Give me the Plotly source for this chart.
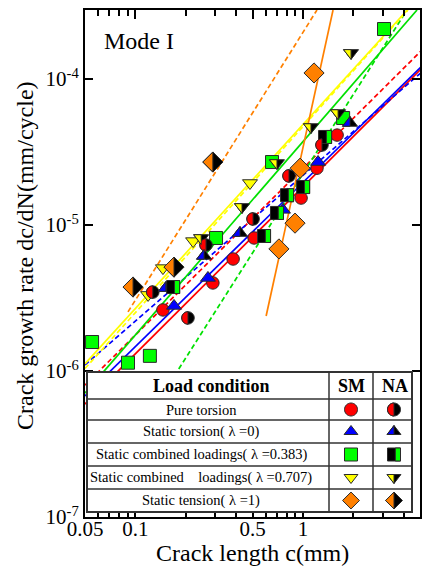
import math
import plotly.graph_objects as go

FONT = "Liberation Serif, Times New Roman, serif"

# ---------------- data (crack length c [mm], growth rate dc/dN [mm/cycle]) ----------------
# Pure torsion
pt_sm_c = [0.146, 0.290, 0.383, 0.511, 0.975, 1.213, 1.600]
pt_sm_r = [2.62e-6, 4.01e-6, 5.85e-6, 8.15e-6, 1.53e-5, 2.45e-5, 4.13e-5]
pt_na_c = [0.127, 0.206, 0.264, 0.504, 0.826, 1.300]
pt_na_r = [3.47e-6, 2.31e-6, 7.29e-6, 1.10e-5, 2.17e-5, 3.53e-5]
# Static torsion (lambda = 0)
st_sm_c = [0.170, 0.271, 0.760, 1.231]
st_sm_r = [2.79e-6, 4.34e-6, 1.27e-5, 2.70e-5]
st_na_c = [0.152, 0.257, 0.421, 1.911]
st_na_r = [3.70e-6, 6.14e-6, 8.81e-6, 5.00e-5]
# Static combined loadings (lambda = 0.383)
c383_sm_c = [0.0551, 0.0903, 0.122, 0.303, 0.654, 1.738, 3.048]
c383_sm_r = [1.58e-6, 1.14e-6, 1.27e-6, 8.15e-6, 2.70e-5, 5.41e-5, 2.20e-4]
c383_na_c = [0.168, 0.586, 0.700, 0.804, 1.003, 1.356]
c383_na_r = [3.76e-6, 8.41e-6, 1.21e-5, 1.60e-5, 1.82e-5, 4.01e-5]
# Static combined loadings (lambda = 0.707)
c707_sm_c = [0.119, 0.146, 0.221, 0.483]
c707_sm_r = [3.32e-6, 5.07e-6, 7.76e-6, 1.94e-5]
c707_na_c = [0.247, 0.433, 0.700, 1.117, 1.622, 1.938]
c707_na_r = [8.15e-6, 1.33e-5, 2.66e-5, 4.69e-5, 5.85e-5, 1.51e-4]
# Static tension (lambda = 1)
ten_sm_c = [0.719, 0.897, 0.962, 1.165]
ten_sm_r = [6.86e-6, 1.03e-5, 2.45e-5, 1.10e-4]
ten_na_c = [0.0968, 0.170, 0.290]
ten_na_r = [3.76e-6, 5.15e-6, 2.70e-5]

# Fitted Paris-law lines: end points (c, dc/dN)
fit_pt_sm_c, fit_pt_sm_r = [0.05, 5.14], [5.94e-7, 1.19e-4]
fit_pt_na_c, fit_pt_na_r = [0.05, 5.14], [8.01e-7, 1.58e-4]
fit_st_sm_c, fit_st_sm_r = [0.05, 5.14], [6.75e-7, 1.23e-4]
fit_st_na_c, fit_st_na_r = [0.05, 5.14], [1.10e-6, 1.12e-4]
fit_c383_sm_c, fit_c383_sm_r = [0.05, 4.80], [7.06e-7, 2.97e-4]
fit_c383_na_c, fit_c383_na_r = [0.12, 4.18], [4.90e-7, 2.97e-4]
fit_c707_sm_c, fit_c707_sm_r = [0.05, 4.20], [1.12e-6, 2.97e-4]
fit_c707_na_c, fit_c707_na_r = [0.05, 4.24], [1.04e-6, 2.97e-4]
fit_ten_sm_c, fit_ten_sm_r = [0.603, 1.513], [2.38e-6, 2.97e-4]
fit_ten_na_c, fit_ten_na_r = [0.0903, 1.213], [2.54e-6, 2.97e-4]

x_tickvals = [0.05, 0.1, 0.5, 1, 5]
x_ticktext = ["0.05", "0.1", "0.5", "1", "5"]
x_minor = [0.06, 0.07, 0.08, 0.09, 0.2, 0.3, 0.4, 0.6, 0.7, 0.8, 0.9, 2, 3, 4]
y_tickvals = [1e-7, 1e-6, 1e-5, 1e-4]
y_ticktext = ["10<sup>-7</sup>", "10<sup>-6</sup>", "10<sup>-5</sup>", "10<sup>-4</sup>"]

x_title = "Crack length c(mm)"
y_title = "Crack growth rate dc/dN(mm/cycle)"
rows = ["Pure torsion", "Static torsion( \u03bb =0)",
        "Static combined loadings( \u03bb =0.383)",
        "Static combined\u00a0\u00a0\u00a0 loadings( \u03bb =0.707)",
        "Static tension( \u03bb =1)"]

RED, BLUE, GREEN, YELLOW, ORANGE = "#ff0000", "#0000ff", "#00ff00", "#ffff00", "#ff8000"
LGREEN = "#00e000"
EDGE = "#2a2a2a"

# ---------------- layout geometry ----------------
W, H = 422, 568
ML, MR, MT, MB = 85, 2, 10, 51
PW, PH = W - ML - MR, H - MT - MB


def pxx(x):
    return (x - ML) / PW


def pxy(y):
    return (H - MB - y) / PH


fig = go.Figure()

# fit lines
lines = [
    (fit_pt_sm_c, fit_pt_sm_r, RED, "solid"),
    (fit_pt_na_c, fit_pt_na_r, RED, "5px,3px"),
    (fit_st_sm_c, fit_st_sm_r, BLUE, "solid"),
    (fit_st_na_c, fit_st_na_r, BLUE, "5px,3px"),
    (fit_c383_sm_c, fit_c383_sm_r, LGREEN, "solid"),
    (fit_c383_na_c, fit_c383_na_r, LGREEN, "5px,3px"),
    (fit_c707_sm_c, fit_c707_sm_r, YELLOW, "solid"),
    (fit_c707_na_c, fit_c707_na_r, YELLOW, "5px,3px"),
    (fit_ten_sm_c, fit_ten_sm_r, ORANGE, "solid"),
    (fit_ten_na_c, fit_ten_na_r, ORANGE, "5px,3px"),
]
for cx, cy, col, dash in lines:
    fig.add_trace(go.Scatter(x=cx, y=cy, mode="lines",
                             line=dict(color=col, width=1.7, dash=dash),
                             showlegend=False, hoverinfo="skip"))

SZ = {"circle": 12.5, "triangle-up": 13, "triangle-down": 13, "square": 13, "diamond": 15.5}

series = [
    # (c, r, symbol, face colour, NA?)
    (pt_sm_c, pt_sm_r, "circle", RED, False),
    (st_sm_c, st_sm_r, "triangle-up", BLUE, False),
    (c383_sm_c, c383_sm_r, "square", GREEN, False),
    (c707_sm_c, c707_sm_r, "triangle-down", YELLOW, False),
    (ten_sm_c, ten_sm_r, "diamond", ORANGE, False),
    (pt_na_c, pt_na_r, "circle", RED, True),
    (st_na_c, st_na_r, "triangle-up", BLUE, True),
    (c383_na_c, c383_na_r, "square", GREEN, True),
    (c707_na_c, c707_na_r, "triangle-down", YELLOW, True),
    (ten_na_c, ten_na_r, "diamond", ORANGE, True),
]

K = 0.5523


def fmt(v):
    return f"{v:.2f}"


def full_path(sym, s):
    r = s / 2
    if sym == "circle":
        k = K * r
        return (f"M{fmt(r)},0 C{fmt(r)},{fmt(k)} {fmt(k)},{fmt(r)} 0,{fmt(r)} "
                f"C{fmt(-k)},{fmt(r)} {fmt(-r)},{fmt(k)} {fmt(-r)},0 "
                f"C{fmt(-r)},{fmt(-k)} {fmt(-k)},{fmt(-r)} 0,{fmt(-r)} "
                f"C{fmt(k)},{fmt(-r)} {fmt(r)},{fmt(-k)} {fmt(r)},0 Z")
    if sym == "triangle-up":
        rt = r * 2 / math.sqrt(3)
        return f"M{fmt(-rt)},{fmt(-r/2)} L{fmt(rt)},{fmt(-r/2)} L0,{fmt(r)} Z"
    if sym == "triangle-down":
        rt = r * 2 / math.sqrt(3)
        return f"M{fmt(-rt)},{fmt(r/2)} L{fmt(rt)},{fmt(r/2)} L0,{fmt(-r)} Z"
    if sym == "square":
        return f"M{fmt(-r)},{fmt(-r)} L{fmt(r)},{fmt(-r)} L{fmt(r)},{fmt(r)} L{fmt(-r)},{fmt(r)} Z"
    rd = 1.3 * r
    return f"M{fmt(rd)},0 L0,{fmt(rd)} L{fmt(-rd)},0 L0,{fmt(-rd)} Z"


def part_path(sym, s):
    r = s / 2
    if sym == "circle":
        k = K * r
        return (f"M0,{fmt(r)} C{fmt(-k)},{fmt(r)} {fmt(-r)},{fmt(k)} {fmt(-r)},0 "
                f"C{fmt(-r)},{fmt(-k)} {fmt(-k)},{fmt(-r)} 0,{fmt(-r)} Z")
    if sym == "triangle-up":
        rt = r * 2 / math.sqrt(3)
        return f"M0,{fmt(r)} L{fmt(-rt)},{fmt(-r/2)} L0,{fmt(-r/2)} Z"
    if sym == "triangle-down":
        rt = r * 2 / math.sqrt(3)
        return f"M0,{fmt(r/2)} L{fmt(-rt)},{fmt(r/2)} L0,{fmt(-r)} Z"
    if sym == "square":
        a = 0.2 * r
        return f"M{fmt(a)},{fmt(-r)} L{fmt(r)},{fmt(-r)} L{fmt(r)},{fmt(r)} L{fmt(a)},{fmt(r)} Z"
    rd = 1.3 * r
    return f"M0,{fmt(rd)} L{fmt(-rd)},0 L0,{fmt(-rd)} Z"


shapes = []
for cx, cy, sym, col, na in series:
    fig.add_trace(go.Scatter(
        x=cx, y=cy, mode="markers",
        marker=dict(symbol=sym, size=SZ[sym], color="#000000" if na else col,
                    line=dict(color=EDGE, width=1)),
        showlegend=False, hoverinfo="skip"))
    if na:
        for xv, yv in zip(cx, cy):
            shapes.append(dict(type="path", xref="x", yref="y", xsizemode="pixel",
                               ysizemode="pixel", xanchor=xv, yanchor=yv,
                               path=part_path(sym, SZ[sym]), fillcolor=col,
                               line=dict(color=EDGE, width=1), layer="above"))

# ---------------- table (legend) ----------------
TL, TR, TT, TB = 87, 412, 372, 512
C1, C2 = 329, 373
row_lines = [399, 420, 443, 466, 489]
shapes.append(dict(type="rect", xref="paper", yref="paper", x0=pxx(TL), x1=pxx(TR),
                   y0=pxy(TB), y1=pxy(TT), fillcolor="white",
                   line=dict(color="#333333", width=2), layer="above"))
for yl in row_lines:
    shapes.append(dict(type="line", xref="paper", yref="paper", x0=pxx(TL), x1=pxx(TR),
                       y0=pxy(yl), y1=pxy(yl), line=dict(color="#333333", width=1.5),
                       layer="above"))
for xl in (C1, C2):
    shapes.append(dict(type="line", xref="paper", yref="paper", x0=pxx(xl), x1=pxx(xl),
                       y0=pxy(TB), y1=pxy(TT), line=dict(color="#333333", width=1.5),
                       layer="above"))

row_y = [409.5, 431.5, 454.5, 477.5, 500.5]
LEG_SZ = {"circle": 13, "triangle-up": 12, "triangle-down": 12, "square": 13, "diamond": 13}
leg = [("circle", RED), ("triangle-up", BLUE), ("square", GREEN),
       ("triangle-down", YELLOW), ("diamond", ORANGE)]
for (sym, col), yy in zip(leg, row_y):
    s = LEG_SZ[sym]
    shapes.append(dict(type="path", xref="paper", yref="paper", xsizemode="pixel",
                       ysizemode="pixel", xanchor=pxx(351), yanchor=pxy(yy),
                       path=full_path(sym, s), fillcolor=col,
                       line=dict(color=EDGE, width=1), layer="above"))
    shapes.append(dict(type="path", xref="paper", yref="paper", xsizemode="pixel",
                       ysizemode="pixel", xanchor=pxx(394), yanchor=pxy(yy),
                       path=full_path(sym, s), fillcolor="#000000",
                       line=dict(color=EDGE, width=1), layer="above"))
    shapes.append(dict(type="path", xref="paper", yref="paper", xsizemode="pixel",
                       ysizemode="pixel", xanchor=pxx(394), yanchor=pxy(yy),
                       path=part_path(sym, s), fillcolor=col,
                       line=dict(color=EDGE, width=1), layer="above"))


def ann(text, x, y, size, bold=False, angle=0, yanchor="middle"):
    return dict(text=f"<b>{text}</b>" if bold else text, x=pxx(x), y=pxy(y),
                xref="paper", yref="paper", xanchor="center", yanchor=yanchor,
                textangle=angle, showarrow=False,
                font=dict(family=FONT, size=size, color="black"))


annotations = [
    ann("Load condition", 211, 386, 18, True),
    ann("SM", 351, 386, 18, True),
    ann("NA", 394.5, 386, 18, True),
    ann("Mode I", 139, 41, 24),
    ann(x_title, 252, 567.5, 24, yanchor="bottom"),
    ann(y_title, 25, 256, 24, angle=-90),
]
for txt, yy in zip(rows, row_y):
    annotations.append(ann(txt, 201, yy, 14.5))

axis_common = dict(ticks="inside", tickwidth=1.5, tickcolor="black",
                   showline=True, linewidth=2, linecolor="black", mirror="allticks",
                   showgrid=False, zeroline=False, automargin=False,
                   tickfont=dict(family=FONT, size=21, color="black"))

fig.update_layout(
    template="none",
    width=W, height=H,
    margin=dict(l=ML, r=MR, t=MT, b=MB, pad=0, autoexpand=False),
    paper_bgcolor="white", plot_bgcolor="white",
    shapes=shapes, annotations=annotations,
    showlegend=False, hovermode=False,
    xaxis=dict(type="log", range=[math.log10(0.05), math.log10(5)],
               tickmode="array", tickvals=x_tickvals, ticktext=x_ticktext,
               ticklen=9, ticklabelstandoff=-8,
               minor=dict(tickmode="array", tickvals=x_minor, ticks="inside", ticklen=6,
                          tickwidth=1.5, tickcolor="black", showgrid=False),
               **axis_common),
    yaxis=dict(type="log", range=[-7, math.log10(2.97e-4)],
               tickmode="array", tickvals=y_tickvals, ticktext=y_ticktext,
               ticklen=8, **axis_common),
)

fig.write_html("out.html", config={"displayModeBar": False},
               post_script="document.body.style.margin='0';document.body.style.overflow='hidden';")
